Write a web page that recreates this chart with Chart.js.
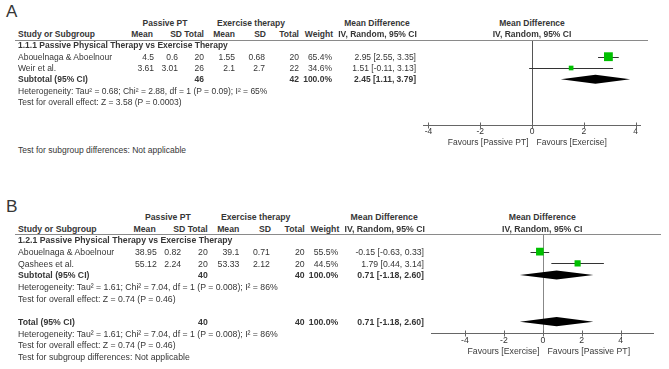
<!DOCTYPE html>
<html>
<head>
<meta charset="utf-8">
<script src="https://cdn.jsdelivr.net/npm/chart.js@4.4.1/dist/chart.umd.min.js"></script>
<style>
  body { margin: 0; background: #fff; }
  #page { position: relative; width: 669px; height: 369px; overflow: hidden;
          font-family: Arial, "Liberation Sans", sans-serif; color: #363636; }
  .t { position: absolute; white-space: nowrap; line-height: 10px; }
  .b { font-weight: bold; }
  .rule { position: absolute; height: 0; border-top: 1px solid #8a8a8a; }
  canvas { position: absolute; }
</style>
</head>
<body>
<div id="page">
  <canvas id="plotA" width="260" height="125" style="left:400px;top:30px;width:260px;height:125px"></canvas>
  <canvas id="plotB" width="259" height="136" style="left:410px;top:224px;width:259px;height:136px"></canvas>
</div>
<script>
// ---- panel A ----
const studiesA = ["Abouelnaga & Aboelnour", "Weir et al."];
const ptMeanA = [4.5, 3.61];
const ptSdA = [0.6, 3.01];
const ptTotalA = [20, 26];
const exMeanA = [1.55, 2.1];
const exSdA = [0.68, 2.7];
const exTotalA = [20, 22];
const weightA = [65.4, 34.6];
const mdA = [2.95, 1.51];
const loA = [2.55, -0.11];
const hiA = [3.35, 3.13];
const subtotalA = [2.45, 1.11, 3.79];   // md, lower, upper
const subtotalNA = [46, 42];
const groupA = "1.1.1 Passive Physical Therapy vs Exercise Therapy";
const hetA = "Heterogeneity: Tau² = 0.68; Chi² = 2.88, df = 1 (P = 0.09); I² = 65%";
const effectA = "Test for overall effect: Z = 3.58 (P = 0.0003)";
const favoursA = ["Favours [Passive PT]", "Favours [Exercise]"];

// ---- panel B ----
const studiesB = ["Abouelnaga & Aboelnour", "Qashees et al."];
const ptMeanB = [38.95, 55.12];
const ptSdB = [0.82, 2.24];
const ptTotalB = [20, 20];
const exMeanB = [39.1, 53.33];
const exSdB = [0.71, 2.12];
const exTotalB = [20, 20];
const weightB = [55.5, 44.5];
const mdB = [-0.15, 1.79];
const loB = [-0.63, 0.44];
const hiB = [0.33, 3.14];
const subtotalB = [0.71, -1.18, 2.60];
const subtotalNB = [40, 40];
const totalB = [0.71, -1.18, 2.60];
const totalNB = [40, 40];
const groupB = "1.2.1 Passive Physical Therapy vs Exercise Therapy";
const hetB = "Heterogeneity: Tau² = 1.61; Chi² = 7.04, df = 1 (P = 0.008); I² = 86%";
const effectB = "Test for overall effect: Z = 0.74 (P = 0.46)";
const favoursB = ["Favours [Exercise]", "Favours [Passive PT]"];

const subgroupText = "Test for subgroup differences: Not applicable";
const tickValues = [-4, -2, 0, 2, 4];

const page = document.getElementById("page");

function put(text, x, y, align, bold, size) {
  const d = document.createElement("div");
  d.className = "t" + (bold ? " b" : "");
  d.textContent = text;
  d.style.fontSize = size + "px";
  d.style.top = (y - 5) + "px";
  if (align === "right") d.style.right = (669 - x) + "px";
  else if (align === "center") { d.style.left = x + "px"; d.style.transform = "translateX(-50%)"; }
  else d.style.left = x + "px";
  page.appendChild(d);
}

function rule(x1, x2, y) {
  const d = document.createElement("div");
  d.className = "rule";
  d.style.left = x1 + "px";
  d.style.width = (x2 - x1) + "px";
  d.style.top = Math.round(y) + "px";
  page.appendChild(d);
}

const ci = (m, l, h) => m.toFixed(2) + " [" + l.toFixed(2) + ", " + h.toFixed(2) + "]";

// layout is written in panel A coordinates, panel B is the same figure slightly scaled
function table(L, D) {
  const X = L.x, Y = L.y, f = L.font;
  put(L.name, 6, Y(12), "left", false, L.labelFont);
  put("Passive PT", X(165), Y(22.7), "center", true, f);
  put("Exercise therapy", X(251), Y(22.7), "center", true, f);
  put("Mean Difference", X(377), Y(22.7), "center", true, f);
  put("Mean Difference", X(532), Y(22.7), "center", true, f);
  put("Study or Subgroup", X(18), Y(34), "left", true, f);
  put("Mean", X(153), Y(34), "right", true, f);
  put("SD", X(182), Y(34), "right", true, f);
  put("Total", X(204), Y(34), "right", true, f);
  put("Mean", X(235), Y(34), "right", true, f);
  put("SD", X(266), Y(34), "right", true, f);
  put("Total", X(299), Y(34), "right", true, f);
  put("Weight", X(333), Y(34), "right", true, f);
  put("IV, Random, 95% CI", X(377.5), Y(34), "center", true, f);
  put("IV, Random, 95% CI", X(532), Y(34), "center", true, f);
  rule(X(15), X(648), Y(39.5));

  const row = i => Y(45.4 + 11.3 * i);
  put(D.group, X(18), row(0), "left", true, f);
  D.studies.forEach((s, i) => {
    const y = row(i + 1);
    put(s, X(18), y, "left", false, f);
    put(String(D.ptMean[i]), X(154), y, "right", false, f);
    put(String(D.ptSd[i]), X(178), y, "right", false, f);
    put(String(D.ptTotal[i]), X(204), y, "right", false, f);
    put(String(D.exMean[i]), X(235), y, "right", false, f);
    put(String(D.exSd[i]), X(265), y, "right", false, f);
    put(String(D.exTotal[i]), X(299), y, "right", false, f);
    put(D.weight[i].toFixed(1) + "%", X(332), y, "right", false, f);
    put(ci(D.md[i], D.lo[i], D.hi[i]), X(416), y, "right", false, f);
  });
  const summary = (label, r, n, s) => {
    const y = row(r);
    put(label, X(18), y, "left", true, f);
    put(String(n[0]), X(204), y, "right", true, f);
    put(String(n[1]), X(299), y, "right", true, f);
    put("100.0%", X(332), y, "right", true, f);
    put(ci(s[0], s[1], s[2]), X(416), y, "right", true, f);
    put(D.het, X(18), row(r + 1), "left", false, f);
    put(D.effect, X(18), row(r + 2), "left", false, f);
  };
  summary("Subtotal (95% CI)", 3, D.subN, D.sub);
  if (D.total) {
    summary("Total (95% CI)", 7, D.totalN, D.total);
    put(subgroupText, X(18), row(10), "left", false, f);
  } else {
    put(subgroupText, X(18), Y(150), "left", false, f);
  }
}

function forestPlugin(o) {
  return {
    id: "forest",
    beforeDatasetsDraw(chart) {
      const { ctx, chartArea, scales: { x, y } } = chart;
      const x0 = Math.round(x.getPixelForValue(0)) + 0.5;
      const bottom = Math.round(chartArea.bottom) + 0.5;
      ctx.save();
      ctx.lineWidth = 1;
      ctx.strokeStyle = o.zeroColor;
      ctx.beginPath();
      ctx.moveTo(x0, chartArea.top);
      ctx.lineTo(x0, chartArea.bottom);
      ctx.stroke();
      ctx.strokeStyle = "#666";
      ctx.beginPath();
      x.ticks.forEach(t => {
        const px = Math.round(x.getPixelForValue(t.value)) + 0.5;
        ctx.moveTo(px, bottom - 3);
        ctx.lineTo(px, bottom + 3);
      });
      ctx.stroke();
      ctx.strokeStyle = "#333";
      o.lo.forEach((lo, i) => {
        const py = Math.round(y.getPixelForValue(i + 1)) + 0.5;
        ctx.beginPath();
        ctx.moveTo(x.getPixelForValue(lo), py);
        ctx.lineTo(x.getPixelForValue(o.hi[i]), py);
        ctx.stroke();
      });
      ctx.fillStyle = "#000";
      o.summaries.forEach(s => {
        const py = y.getPixelForValue(s.row);
        ctx.beginPath();
        ctx.moveTo(x.getPixelForValue(s.v[1]), py);
        ctx.lineTo(x.getPixelForValue(s.v[0]), py - o.half);
        ctx.lineTo(x.getPixelForValue(s.v[2]), py);
        ctx.lineTo(x.getPixelForValue(s.v[0]), py + o.half);
        ctx.closePath();
        ctx.fill();
      });
      ctx.fillStyle = "#3a3a3a";
      ctx.font = o.font + "px Arial";
      ctx.textBaseline = "middle";
      ctx.textAlign = "right";
      ctx.fillText(o.favours[0], x0 - 4, chartArea.bottom + 18);
      ctx.textAlign = "left";
      ctx.fillText(o.favours[1], x0 + 4, chartArea.bottom + 18);
      ctx.restore();
    }
  };
}

function forest(id, o) {
  new Chart(document.getElementById(id), {
    type: "scatter",
    data: {
      datasets: [{
        data: o.md.map((m, i) => ({ x: m, y: i + 1 })),
        pointStyle: "rect",
        pointRadius: c => o.weight[c.dataIndex] * o.sq / Math.SQRT2,
        pointHoverRadius: c => o.weight[c.dataIndex] * o.sq / Math.SQRT2,
        backgroundColor: "#00c000",
        borderWidth: 0
      }]
    },
    options: {
      responsive: false,
      animation: false,
      devicePixelRatio: 1,
      layout: { padding: o.pad },
      plugins: { legend: { display: false }, tooltip: { enabled: false } },
      scales: {
        x: {
          type: "linear", min: o.xmin, max: o.xmax,
          afterBuildTicks: s => { s.ticks = tickValues.map(v => ({ value: v })); },
          afterFit: s => { s.height = o.axisH; },
          grid: { display: false, drawTicks: false },
          border: { color: "#666", width: 1 },
          ticks: { padding: 2, color: "#333", font: { family: "Arial", size: o.font }, callback: v => String(v) }
        },
        y: { type: "linear", display: false, reverse: true, min: o.ymin, max: o.ymax }
      }
    },
    plugins: [forestPlugin(o)]
  });
}

table(
  { name: "A", x: v => v, y: v => v, font: 8.5, labelFont: 17 },
  { studies: studiesA, ptMean: ptMeanA, ptSd: ptSdA, ptTotal: ptTotalA, exMean: exMeanA, exSd: exSdA,
    exTotal: exTotalA, weight: weightA, md: mdA, lo: loA, hi: hiA, group: groupA, het: hetA,
    effect: effectA, sub: subtotalA, subN: subtotalNA }
);
table(
  { name: "B", x: v => 18 + (v - 18) * 1.02, y: v => 234.3 + (v - 39.5) * 1.033, font: 8.7, labelFont: 17.3 },
  { studies: studiesB, ptMean: ptMeanB, ptSd: ptSdB, ptTotal: ptTotalB, exMean: exMeanB, exSd: exSdB,
    exTotal: exTotalB, weight: weightB, md: mdB, lo: loB, hi: hiB, group: groupB, het: hetB,
    effect: effectB, sub: subtotalB, subN: subtotalNB, total: totalB, totalN: totalNB }
);

forest("plotA", {
  md: mdA, lo: loA, hi: hiA, weight: weightA, sq: 0.135, half: 4.5,
  summaries: [{ row: 3, v: subtotalA }],
  favours: favoursA, zeroColor: "#555", font: 8.5,
  xmin: -4.21, xmax: 4.17, ymin: -0.478, ymax: 7.044,
  pad: { left: 23, right: 20, top: 10, bottom: 0 }, axisH: 30
});
forest("plotB", {
  md: mdB, lo: loB, hi: hiB, weight: weightB, sq: 0.138, half: 4.6,
  summaries: [{ row: 3, v: subtotalB }, { row: 7, v: totalB }],
  favours: favoursB, zeroColor: "#888", font: 8.7,
  xmin: -5.71, xmax: 5.68, ymin: -0.49, ymax: 8.0,
  pad: { left: 21.7, right: 15.7, top: 10.3, bottom: 0 }, axisH: 26.7
});
</script>
</body>
</html>
